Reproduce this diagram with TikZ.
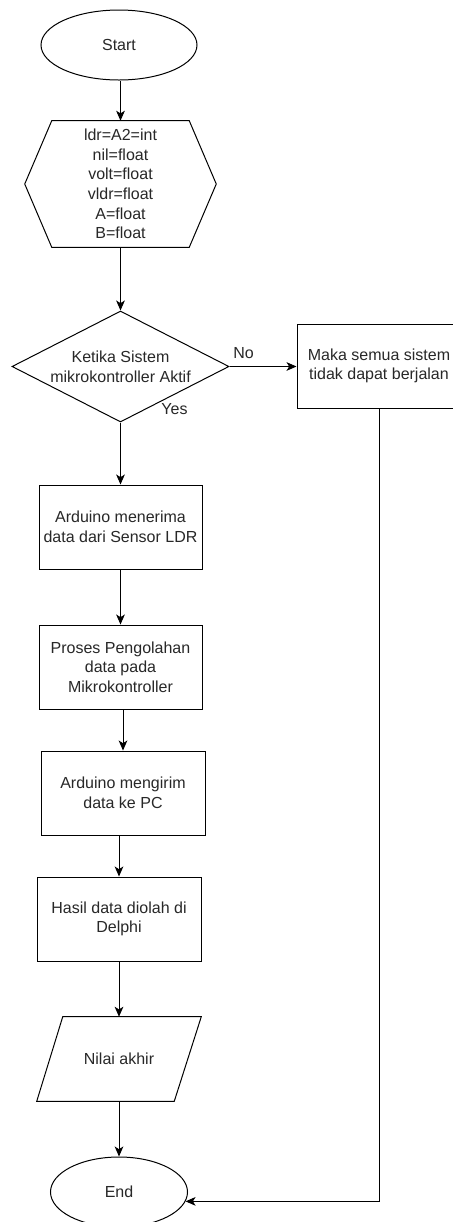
\documentclass[tikz,border=0pt]{standalone}
\usepackage{fontspec}
\setmainfont{Liberation Sans}
\usetikzlibrary{shapes.geometric,arrows.meta,calc}
\definecolor{txt}{RGB}{40,40,40}
\begin{document}
\begin{tikzpicture}[x=0.75pt,y=-0.75pt,
  every node/.style={font=\fontsize{12pt}{14.7pt}\selectfont, text=txt, align=center},
  base/.style={draw=black, line width=0.75pt, inner sep=0pt},
  terminal/.style={base, ellipse, minimum width=156*0.75pt, minimum height=70*0.75pt},
  process/.style={base, rectangle, minimum width=163*0.75pt, minimum height=84*0.75pt},
  frame/.style={rectangle, inner sep=0pt},
  link/.style={line width=0.75pt, -{Stealth[length=7.5pt,width=6.5pt,inset=2pt]}}]
\useasboundingbox (0,0) rectangle (453,1222);
\fill[white] (0,0) rectangle (453,1222);
\clip (0,0) rectangle (453,1222);

\node (start) [terminal] at (119,45) {Start};

\node (hex) [frame, minimum width=191*0.75pt, minimum height=126*0.75pt] at (120.5,184)
  {ldr=A2=int\\nil=float\\volt=float\\vldr=float\\A=float\\B=float};
\draw[base] ($(hex.north west)+(27,0)$) -- ($(hex.north east)+(-27,0)$) -- (hex.east)
  -- ($(hex.south east)+(-27,0)$) -- ($(hex.south west)+(27,0)$) -- (hex.west) -- cycle;

\node (dec) [base, diamond, aspect=1.955, minimum width=217*0.75pt, minimum height=111*0.75pt]
  at (120.5,366.5) {Ketika Sistem\\mikrokontroller Aktif};

\node (nobox) [process, minimum width=164*0.75pt] at (379,366) {Maka semua sistem\\tidak dapat berjalan};

\node (b1) [process] at (120.5,527) {Arduino menerima\\data dari Sensor LDR};
\node (b2) [process] at (120.5,667) {Proses Pengolahan\\data pada\\Mikrokontroller};
\node (b3) [process, minimum width=164*0.75pt] at (123,793) {Arduino mengirim\\data ke PC};
\node (b4) [process, minimum width=164*0.75pt] at (119,919) {Hasil data diolah di\\Delphi};

\node (para) [frame, minimum width=164*0.75pt, minimum height=84*0.75pt] at (119,1059) {Nilai akhir};
\draw[base] ($(para.north west)+(26,0)$) -- (para.north east) -- ($(para.south east)+(-27,0)$)
  -- (para.south west) -- cycle;

\node (end) [terminal, minimum width=137*0.75pt] at (119,1192) {End};

\node (lno) at (243.5,353) {No};
\node (lyes) at (174.5,409) {Yes};

\draw[link] (start.south -| hex.north) -- (hex.north);
\draw[link] (hex.south) -- (dec.north);
\draw[link] (dec.south) -- (b1.north);
\draw[link] (dec.east) -- (dec.east -| nobox.west);
\draw[link] (b1.south) -- (b2.north);
\draw[link] (b2.south -| b3.north) -- (b3.north);
\draw[link] (b3.south -| b4.north) -- (b4.north);
\draw[link] (b4.south) -- (para.north);
\draw[link] (para.south) -- (end.north);
\draw[link] (nobox.south) |- (end.-8);
\end{tikzpicture}
\end{document}
